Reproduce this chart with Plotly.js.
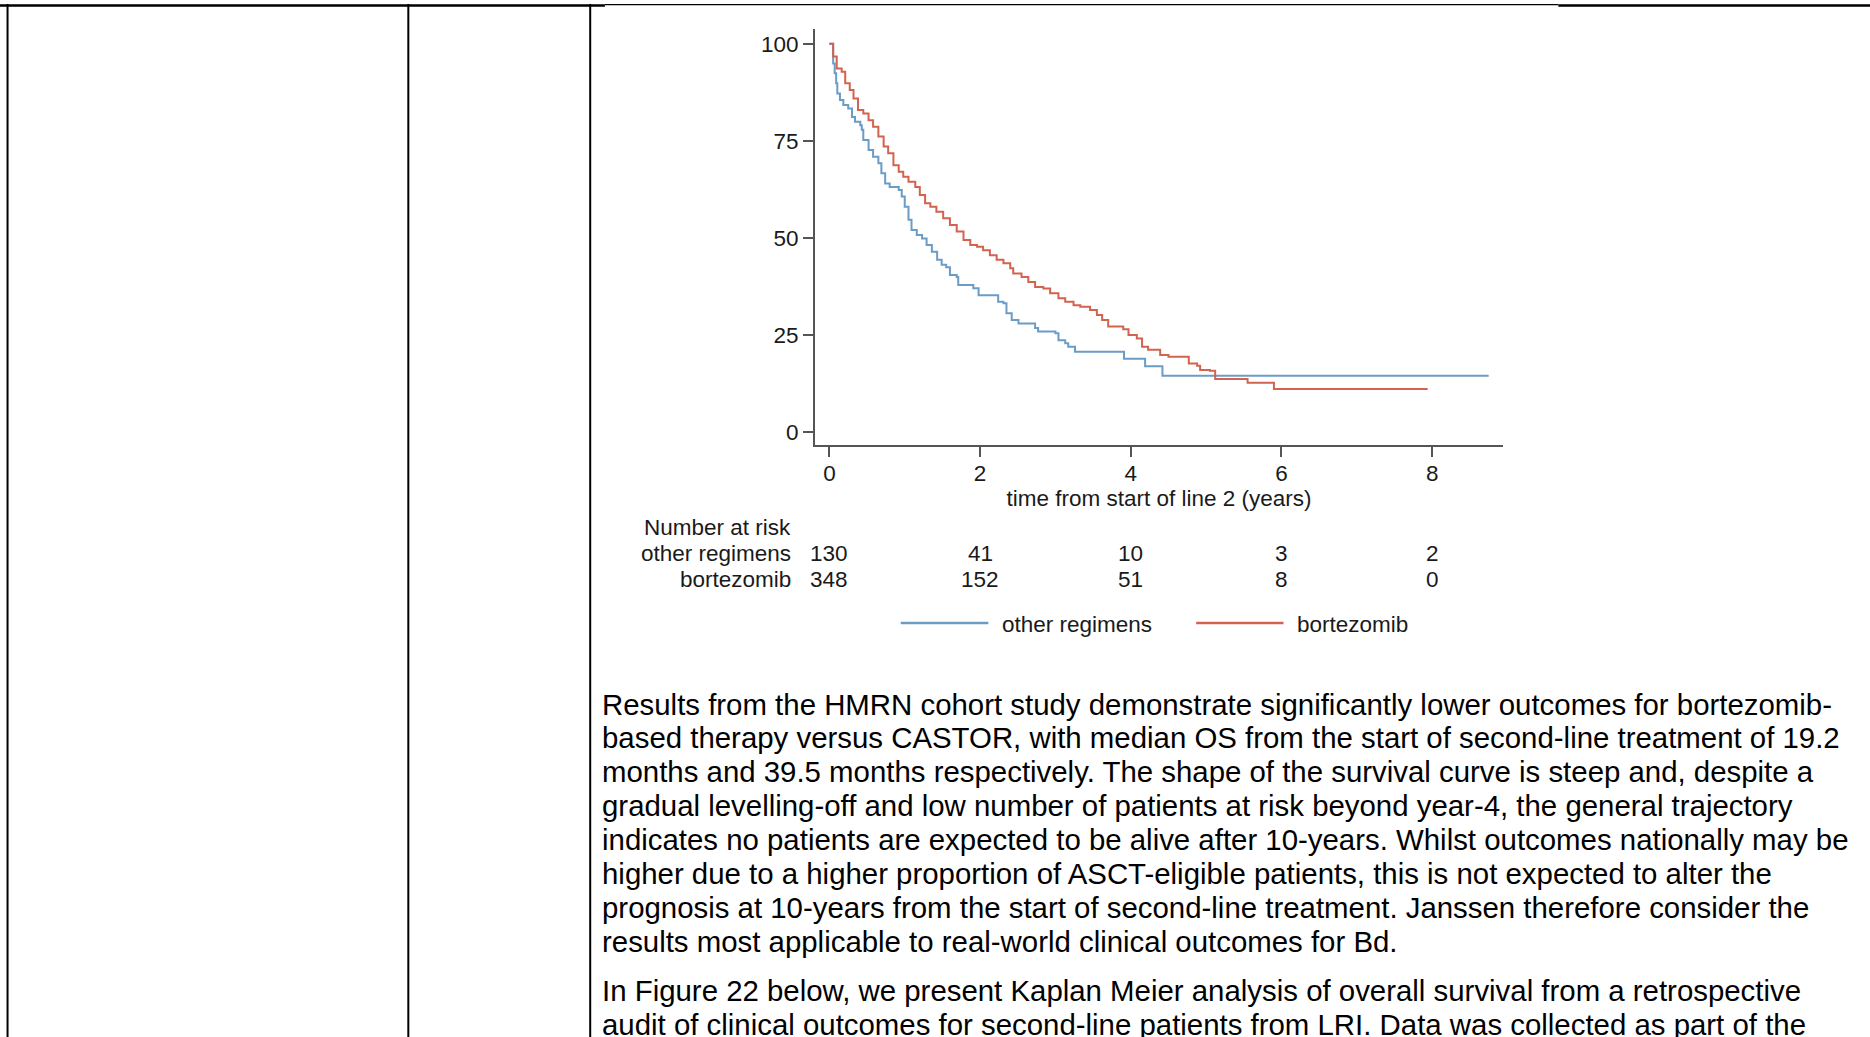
<!DOCTYPE html>
<html>
<head>
<meta charset="utf-8">
<script src="https://cdn.plot.ly/plotly-3.0.1.min.js"></script>
<style>
  html, body { margin: 0; padding: 0; background: #ffffff; }
  #chart { width: 1870px; height: 1037px; }
</style>
</head>
<body>
<div id="chart"></div>
<script>
// ---------------- data ----------------
const seriesNames = ['other regimens', 'bortezomib'];
const seriesColors = ['#6b9cc6', '#d2634f'];

const timeOther = [0, 0.05, 0.07, 0.09, 0.105, 0.14, 0.185, 0.25, 0.30, 0.34, 0.41, 0.43, 0.45, 0.52, 0.58, 0.65, 0.69, 0.74, 0.80, 0.92, 0.96, 1.00, 1.05, 1.09, 1.16, 1.23, 1.29, 1.36, 1.43, 1.49, 1.55, 1.60, 1.69, 1.71, 1.91, 1.98, 2.24, 2.31, 2.35, 2.42, 2.51, 2.73, 2.77, 3.00, 3.04, 3.13, 3.17, 3.26, 3.91, 4.19, 4.42, 8.75];
const survOther = [100, 94.9, 92.4, 89.8, 87.2, 85.5, 84.2, 83.3, 81.1, 79.9, 79.0, 77.8, 75.2, 72.6, 70.9, 69.2, 66.6, 64.0, 63.1, 62.3, 60.6, 58.0, 54.6, 52.0, 50.7, 49.8, 48.1, 46.4, 44.3, 43.0, 42.4, 40.4, 39.9, 37.8, 37.0, 35.2, 33.5, 33.1, 30.5, 28.8, 27.9, 26.7, 25.8, 25.4, 23.6, 22.8, 21.9, 20.6, 18.8, 16.9, 14.4, 14.4];

const timeBort = [0, 0.05, 0.097, 0.163, 0.21, 0.27, 0.32, 0.38, 0.45, 0.52, 0.58, 0.65, 0.72, 0.78, 0.85, 0.92, 0.98, 1.05, 1.14, 1.20, 1.27, 1.34, 1.42, 1.51, 1.60, 1.69, 1.78, 1.87, 1.96, 2.04, 2.13, 2.22, 2.31, 2.40, 2.44, 2.55, 2.64, 2.73, 2.84, 2.93, 3.04, 3.13, 3.24, 3.33, 3.46, 3.55, 3.62, 3.70, 3.90, 3.97, 4.08, 4.15, 4.23, 4.39, 4.50, 4.77, 4.88, 4.92, 5.05, 5.12, 5.55, 5.90, 7.94];
const survBort = [100, 96.7, 93.6, 92.8, 89.8, 88.1, 85.9, 82.9, 82.0, 80.3, 78.6, 76.1, 73.5, 71.8, 68.7, 67.0, 65.7, 64.4, 63.1, 61.0, 58.9, 58.0, 56.7, 55.0, 53.3, 51.6, 49.4, 48.1, 47.7, 46.8, 45.5, 44.3, 43.4, 42.1, 40.8, 39.9, 38.6, 37.3, 36.9, 35.7, 34.4, 33.5, 32.6, 32.2, 31.4, 30.1, 28.8, 27.1, 26.4, 24.9, 24.0, 21.9, 21.1, 19.8, 19.3, 17.6, 17.0, 15.9, 15.7, 13.6, 12.6, 11.0, 11.0];

const xTickVals = [0, 2, 4, 6, 8];
const xTickText = ['0', '2', '4', '6', '8'];
const yTickVals = [0, 25, 50, 75, 100];
const yTickText = ['0', '25', '50', '75', '100'];

const riskTitle = 'Number at risk';
const riskTimes = [0, 2, 4, 6, 8];
const riskOther = [130, 41, 10, 3, 2];
const riskBort = [348, 152, 51, 8, 0];

const xTitle = 'time from start of line 2 (years)';

const paragraph1 = [
  'Results from the HMRN cohort study demonstrate significantly lower outcomes for bortezomib-',
  'based therapy versus CASTOR, with median OS from the start of second-line treatment of 19.2',
  'months and 39.5 months respectively. The shape of the survival curve is steep and, despite a',
  'gradual levelling-off and low number of patients at risk beyond year-4, the general trajectory',
  'indicates no patients are expected to be alive after 10-years. Whilst outcomes nationally may be',
  'higher due to a higher proportion of ASCT-eligible patients, this is not expected to alter the',
  'prognosis at 10-years from the start of second-line treatment. Janssen therefore consider the',
  'results most applicable to real-world clinical outcomes for Bd.'
];
const paragraph2 = [
  'In Figure 22 below, we present Kaplan Meier analysis of overall survival from a retrospective',
  'audit of clinical outcomes for second-line patients from LRI. Data was collected as part of the'
];

// ---------------- layout geometry ----------------
const W = 1870, H = 1037;
const M = { l: 815, r: 367.3, t: 29, b: 592, pad: 0 };
const PW = W - M.l - M.r;
const PH = H - M.t - M.b;
const px = x => (x - M.l) / PW;          // page pixel -> paper x
const py = y => (H - M.b - y) / PH;      // page pixel -> paper y

const FONT = 'Liberation Sans, Arial, Helvetica, sans-serif';
const axisColor = '#555555';
const textColor = '#1a1a1a';
const chartFont = 22.5;
const bodyFont = 29.4;

const traces = [
  { x: timeOther, y: survOther, name: seriesNames[0] },
  { x: timeBort, y: survBort, name: seriesNames[1] }
].map((t, i) => ({
  type: 'scatter', mode: 'lines', x: t.x, y: t.y, name: t.name,
  line: { shape: 'hv', color: seriesColors[i], width: 2 },
  hoverinfo: 'skip', showlegend: false
}));

const annotations = [];
const shapes = [];

// number-at-risk table
const labelRight = 792;
annotations.push({ xref: 'paper', yref: 'paper', x: px(labelRight + 1), y: py(527), xanchor: 'right', yanchor: 'middle',
  text: riskTitle, showarrow: false, font: { family: FONT, size: chartFont, color: textColor } });
[[seriesNames[0], riskOther, 553], [seriesNames[1], riskBort, 579.5]].forEach(([name, vals, yy]) => {
  annotations.push({ xref: 'paper', yref: 'paper', x: px(labelRight + 1), y: py(yy), xanchor: 'right', yanchor: 'middle',
    text: name, showarrow: false, font: { family: FONT, size: chartFont, color: textColor } });
  vals.forEach((v, k) => annotations.push({ xref: 'x', yref: 'paper', x: riskTimes[k], y: py(yy), xanchor: 'center', yanchor: 'middle',
    text: String(v), showarrow: false, font: { family: FONT, size: chartFont, color: textColor } }));
});

// legend (drawn as line samples + labels)
const legendY = 623;
const legendItems = [[900.7, 988.3, 999.5], [1196, 1283.3, 1295]];
legendItems.forEach(([x0, x1, tx], i) => {
  shapes.push({ type: 'line', xref: 'paper', yref: 'paper', x0: px(x0), x1: px(x1), y0: py(legendY), y1: py(legendY),
    line: { color: seriesColors[i], width: 2.5 } });
  annotations.push({ xref: 'paper', yref: 'paper', x: px(tx), y: py(legendY + 1.5), xanchor: 'left', yanchor: 'middle',
    text: seriesNames[i], showarrow: false, font: { family: FONT, size: chartFont, color: textColor } });
});

// body text paragraphs
const textLeft = 600.5;
const mid1 = 704, lineStep = 33.9, paraGap = 48.9;
paragraph1.forEach((line, k) => annotations.push({ xref: 'paper', yref: 'paper', x: px(textLeft), y: py(mid1 + k * lineStep),
  xanchor: 'left', yanchor: 'middle', text: line, showarrow: false, font: { family: FONT, size: bodyFont, color: '#000000' } }));
const mid2 = mid1 + (paragraph1.length - 1) * lineStep + paraGap;
paragraph2.forEach((line, k) => annotations.push({ xref: 'paper', yref: 'paper', x: px(textLeft), y: py(mid2 + k * lineStep),
  xanchor: 'left', yanchor: 'middle', text: line, showarrow: false, font: { family: FONT, size: bodyFont, color: '#000000' } }));

// table borders of the surrounding document
[7.9, 408.5, 590.3].forEach(x => shapes.push({ type: 'line', xref: 'paper', yref: 'paper', x0: px(x), x1: px(x), y0: py(4), y1: py(H + 2),
  line: { color: '#000000', width: 2 } }));
shapes.push({ type: 'line', xref: 'paper', yref: 'paper', x0: px(0), x1: px(605), y0: py(5.6), y1: py(5.6), line: { color: '#000000', width: 2.5 } });
shapes.push({ type: 'line', xref: 'paper', yref: 'paper', x0: px(605), x1: px(1558), y0: py(4.6), y1: py(4.6), line: { color: '#000000', width: 1.2 } });
shapes.push({ type: 'line', xref: 'paper', yref: 'paper', x0: px(1558), x1: px(W), y0: py(5.6), y1: py(5.6), line: { color: '#000000', width: 2.5 } });

const layout = {
  width: W, height: H,
  margin: M,
  paper_bgcolor: '#ffffff', plot_bgcolor: '#ffffff',
  font: { family: FONT, size: chartFont, color: textColor },
  showlegend: false,
  xaxis: {
    range: [-0.191, 8.94], tickmode: 'array', tickvals: xTickVals, ticktext: xTickText,
    ticks: 'outside', ticklen: 10, tickwidth: 2, tickcolor: axisColor,
    showline: true, linecolor: axisColor, linewidth: 2, showgrid: false, zeroline: false,
    tickfont: { family: FONT, size: chartFont, color: textColor },
    ticklabelstandoff: -3,
    title: { text: xTitle, font: { family: FONT, size: chartFont, color: textColor }, standoff: 0 },
    fixedrange: true
  },
  yaxis: {
    range: [-3.43, 103.8], tickmode: 'array', tickvals: yTickVals, ticktext: yTickText,
    ticks: 'outside', ticklen: 10, tickwidth: 2, tickcolor: axisColor,
    showline: true, linecolor: axisColor, linewidth: 2, showgrid: false, zeroline: false,
    tickfont: { family: FONT, size: chartFont, color: textColor },
    fixedrange: true
  },
  shapes: shapes,
  annotations: annotations
};

Plotly.newPlot('chart', traces, layout, { displayModeBar: false, responsive: false });
</script>
</body>
</html>
